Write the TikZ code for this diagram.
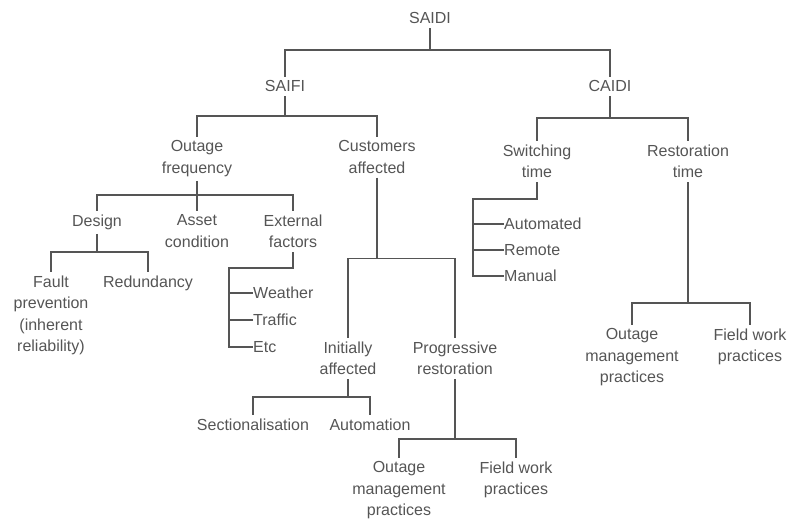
\documentclass[tikz,border=0pt]{standalone}
\usepackage{fontspec}
\setmainfont{Liberation Sans}
\usetikzlibrary{positioning}
\definecolor{inkgray}{HTML}{555555}

\begin{document}
\begin{tikzpicture}[x=1pt,y=-1pt,
treenode/.style={text=inkgray, align=center, inner sep=4pt, anchor=north,
  font=\fontsize{16}{21.5}\selectfont},
leafnode/.style={text=inkgray, inner sep=0pt, anchor=west,
  font=\fontsize{16}{21.5}\selectfont},
link/.style={draw=inkgray, line width=1.5pt},
]
\useasboundingbox (0,0) rectangle (792,525);

%Nodes
\node[treenode] (saidi)      at (430,8.5)   {SAIDI};
\node[treenode] (saifi)      at (285,76.5)  {SAIFI};
\node[treenode] (caidi)      at (610,76.5)  {CAIDI};
\node[treenode] (outfreq)    at (197,136.5) {Outage\\frequency};
\node[treenode] (custaff)    at (377,136.5) {Customers\\affected};
\node[treenode] (switching)  at (537,140.5) {Switching\\time};
\node[treenode] (restime)    at (688,140.5) {Restoration\\time};
\node[treenode] (design)     at (97,210.5)  {Design};
\node[treenode] (asset)      at (197,210.5) {Asset\\condition};
\node[treenode] (external)   at (293,210.5) {External\\factors};
\node[treenode] (fault)      at (51,271.5)  {Fault\\prevention\\(inherent\\reliability)};
\node[treenode] (redund)     at (148,271.5) {Redundancy};
\node[leafnode] (weather)    at (253,293)   {Weather};
\node[leafnode] (traffic)    at (253,320)   {Traffic};
\node[leafnode] (etc)        at (253,347)   {Etc};
\node[leafnode] (automated)  at (504,224)   {Automated};
\node[leafnode] (remote)     at (504,250)   {Remote};
\node[leafnode] (manual)     at (504,276)   {Manual};
\node[treenode] (initaff)    at (348,337.5) {Initially\\affected};
\node[treenode] (progrest)   at (455,337.5) {Progressive\\restoration};
\node[treenode] (section)    at (253,414.5) {Sectionalisation};
\node[treenode] (automation) at (370,414.5) {Automation};
\node[treenode] (outmgmtA)   at (399,457.5) {Outage\\management\\practices};
\node[treenode] (fieldA)     at (516,457.5) {Field work\\practices};
\node[treenode] (outmgmtB)   at (632,324.5) {Outage\\management\\practices};
\node[treenode] (fieldB)     at (750,324.5) {Field work\\practices};

%Lines
\draw[link] (saidi.south) -- ++(0,22) coordinate (busa);
\draw[link] (saifi.north) |- (busa) -| (caidi.north);

\draw[link] (saifi.south) -- ++(0,20) coordinate (busb);
\draw[link] (outfreq.north) |- (busb) -| (custaff.north);

\draw[link] (caidi.south) -- ++(0,22) coordinate (busc);
\draw[link] (switching.north) |- (busc) -| (restime.north);

\draw[link] (outfreq.south) -- ++(0,14) coordinate (busd);
\draw[link] (design.north) |- (busd) -| (external.north);
\draw[link] (busd) -- (asset.north);

\draw[link] (design.south) -- ++(0,18) coordinate (buse);
\draw[link] (fault.north) |- (buse) -| (redund.north);

\draw[link] (external.south) -- ++(0,16) -- ++(-64,0) coordinate (trunka) |- (etc.west);
\draw[link] (trunka |- weather.west) -- (weather.west);
\draw[link] (trunka |- traffic.west) -- (traffic.west);

\draw[link] (switching.south) -- ++(0,17) -- ++(-64,0) coordinate (trunkb) |- (manual.west);
\draw[link] (trunkb |- automated.west) -- (automated.west);
\draw[link] (trunkb |- remote.west) -- (remote.west);

\draw[link] (custaff.south) -- ++(0,81) coordinate (busf);
\draw[link] (initaff.north) |- (busf) -| (progrest.north);

\draw[link] (initaff.south) -- ++(0,18) coordinate (busg);
\draw[link] (section.north) |- (busg) -| (automation.north);

\draw[link] (progrest.south) -- ++(0,60) coordinate (bush);
\draw[link] (outmgmtA.north) |- (bush) -| (fieldA.north);

\draw[link] (restime.south) -- ++(0,121) coordinate (busi);
\draw[link] (outmgmtB.north) |- (busi) -| (fieldB.north);

\end{tikzpicture}
\end{document}
